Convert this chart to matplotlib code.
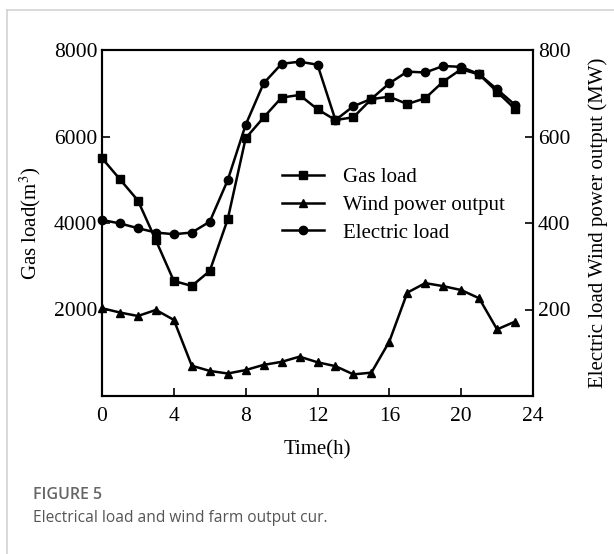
import matplotlib
matplotlib.use("Agg")
import matplotlib.pyplot as plt
from matplotlib.lines import Line2D

hours = list(range(24))
gas_load = [5500, 5010, 4520, 3600, 2660, 2545, 2890, 4085, 5960, 6440, 6900, 6960,
            6630, 6380, 6445, 6865, 6920, 6750, 6885, 7270, 7555, 7435, 7035, 6635]
wind_power = [203, 193, 185, 199, 176, 70, 58, 52, 60, 72, 79, 91,
              78, 69, 50, 54, 126, 239, 261, 254, 245, 226, 154, 172]
electric_load = [407, 399, 388, 378, 374, 378, 403, 499, 627, 723, 768, 773,
                 766, 638, 670, 687, 723, 750, 748, 763, 761, 744, 709, 673]

x_ticks = [0, 4, 8, 12, 16, 20, 24]
left_ticks = [2000, 4000, 6000, 8000]
right_ticks = [200, 400, 600, 800]

serif = ["Liberation Serif", "DejaVu Serif"]
plt.rcParams["font.family"] = serif
plt.rcParams["mathtext.fontset"] = "stix"

fig = plt.figure(figsize=(6.14, 5.54), dpi=100)

# card frame lines
fig.add_artist(Line2D([7/614, 1], [1 - 10/554, 1 - 10/554], color="#d3d3d3", lw=1.2))
fig.add_artist(Line2D([7/614, 7/614], [0, 1 - 10/554], color="#d3d3d3", lw=1.2))

ax = fig.add_axes([102/614, 1 - 396/554, (533 - 102)/614, (396 - 50)/554])
ax2 = ax.twinx()

lw = 1.8
ax.plot(hours, gas_load, color="black", lw=lw, marker="s", ms=6, label="Gas load", clip_on=False, zorder=3)
ax2.plot(hours, wind_power, color="black", lw=lw, marker="^", ms=6, label="Wind power output", clip_on=False, zorder=3)
ax2.plot(hours, electric_load, color="black", lw=lw, marker="o", ms=6, label="Electric load", clip_on=False, zorder=3)

ax.set_xlim(0, 24)
ax.set_ylim(0, 8000)
ax2.set_ylim(0, 800)
ax.set_xticks(x_ticks)
ax.set_yticks(left_ticks)
ax2.set_yticks(right_ticks)

fs = 15
for a in (ax, ax2):
    a.tick_params(direction="in", length=6, width=1.2, labelsize=15.5)
    for s in a.spines.values():
        s.set_linewidth(1.5)
ax.tick_params(axis="x", pad=8)

ax.set_xlabel("Time(h)", fontsize=fs, labelpad=10)
ax.set_ylabel("Gas load(m$^3$)", fontsize=fs, labelpad=8)
ax2.set_ylabel("Electric load Wind power output (MW)", fontsize=fs, labelpad=13)

handles = ax.get_lines() + ax2.get_lines()
ax2.legend(handles, [h.get_label() for h in handles], loc="upper left",
           bbox_to_anchor=(0.375, 0.715), frameon=False, fontsize=fs,
           handlelength=2.0, labelspacing=0.4, handletextpad=0.9)

fig.text(33/614, 1 - 495/554, "FIGURE 5", fontsize=11.5, fontweight="semibold",
         color="#666666", family=["Open Sans", "DejaVu Sans"], va="center")
fig.text(33/614, 1 - 518/554, "Electrical load and wind farm output cur.", fontsize=11.2,
         color="#555555", family=["Open Sans", "DejaVu Sans"], va="center")

fig.savefig("out.png", dpi=100)
